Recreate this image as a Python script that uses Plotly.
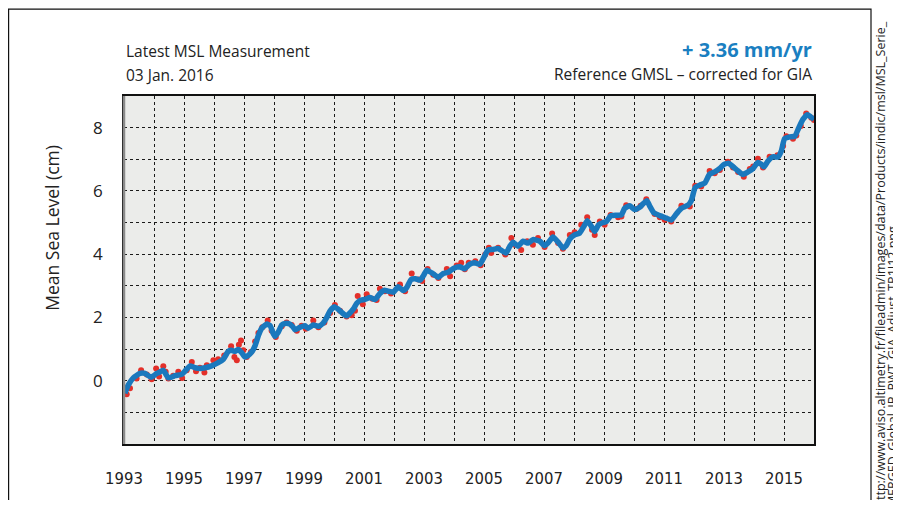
import plotly.graph_objects as go

# ---------------- data ----------------
blue_time = [1993.03, 1993.14, 1993.31, 1993.53, 1993.70, 1993.90, 1994.09, 1994.20, 1994.31, 1994.48,
             1994.70, 1994.92, 1995.03, 1995.20, 1995.37, 1995.53, 1995.70, 1995.92, 1996.14, 1996.31,
             1996.48, 1996.59, 1996.70, 1996.81, 1996.92, 1997.03, 1997.14, 1997.26, 1997.37, 1997.48,
             1997.59, 1997.76, 1997.87, 1997.98, 1998.03, 1998.14, 1998.26, 1998.37, 1998.53, 1998.64,
             1998.70, 1998.87, 1999.03, 1999.14, 1999.31, 1999.48, 1999.64, 1999.76, 1999.87, 2000.01,
             2000.14, 2000.28, 2000.42, 2000.53, 2000.64, 2000.76, 2000.87, 2001.03, 2001.20, 2001.37,
             2001.53, 2001.68, 2001.81, 2001.98, 2002.14, 2002.31, 2002.42, 2002.57, 2002.72, 2002.87,
             2002.98, 2003.09, 2003.26, 2003.48, 2003.64, 2003.81, 2003.98, 2004.19, 2004.36, 2004.52,
             2004.69, 2004.86, 2005.02, 2005.13, 2005.30, 2005.47, 2005.63, 2005.74, 2005.86, 2005.97,
             2006.13, 2006.30, 2006.47, 2006.63, 2006.86, 2007.02, 2007.13, 2007.30, 2007.47, 2007.63,
             2007.74, 2007.86, 2008.02, 2008.19, 2008.33, 2008.44, 2008.58, 2008.69, 2008.82, 2008.97,
             2009.08, 2009.22, 2009.41, 2009.58, 2009.69, 2009.86, 2010.02, 2010.19, 2010.30, 2010.43,
             2010.52, 2010.67, 2010.86, 2011.08, 2011.24, 2011.41, 2011.58, 2011.80, 2011.91, 2012.04,
             2012.19, 2012.36, 2012.52, 2012.69, 2012.86, 2013.00, 2013.16, 2013.30, 2013.47, 2013.63,
             2013.80, 2013.97, 2014.13, 2014.24, 2014.33, 2014.47, 2014.63, 2014.80, 2014.91, 2015.02,
             2015.19, 2015.36, 2015.49, 2015.63, 2015.78, 2015.89, 2016.00]
blue_msl = [-0.40, -0.14, 0.09, 0.23, 0.23, 0.11, 0.23, 0.28, 0.33, 0.09,
            0.16, 0.20, 0.30, 0.47, 0.41, 0.39, 0.41, 0.47, 0.57, 0.68,
            0.93, 0.96, 0.93, 0.99, 0.89, 0.75, 0.80, 0.91, 1.11, 1.43,
            1.66, 1.79, 1.74, 1.48, 1.40, 1.53, 1.76, 1.81, 1.79, 1.69,
            1.61, 1.69, 1.74, 1.66, 1.76, 1.72, 1.82, 2.00, 2.21, 2.34,
            2.26, 2.14, 2.05, 2.14, 2.26, 2.45, 2.54, 2.57, 2.63, 2.57,
            2.76, 2.86, 2.83, 2.80, 2.97, 2.85, 2.94, 3.20, 3.22, 3.18,
            3.32, 3.49, 3.41, 3.27, 3.39, 3.43, 3.55, 3.60, 3.54, 3.68,
            3.73, 3.68, 3.94, 4.13, 4.15, 4.18, 4.09, 4.04, 4.25, 4.38,
            4.25, 4.41, 4.35, 4.46, 4.41, 4.27, 4.35, 4.54, 4.38, 4.20,
            4.27, 4.48, 4.61, 4.67, 4.88, 5.06, 4.88, 4.72, 4.93, 5.00,
            5.03, 5.21, 5.23, 5.24, 5.45, 5.53, 5.41, 5.48, 5.59, 5.69,
            5.53, 5.30, 5.22, 5.14, 5.08, 5.27, 5.45, 5.55, 5.69, 6.11,
            6.18, 6.25, 6.53, 6.60, 6.71, 6.84, 6.87, 6.77, 6.63, 6.52,
            6.60, 6.71, 6.90, 6.84, 6.76, 6.95, 7.08, 7.07, 7.26, 7.65,
            7.71, 7.73, 7.99, 8.26, 8.41, 8.34, 8.26]

red_time = [1993.09, 1993.20, 1993.42, 1993.57, 1993.76, 1993.92, 1994.07, 1994.17, 1994.31, 1994.39,
            1994.48, 1994.64, 1994.81, 1994.94, 1995.09, 1995.26, 1995.40, 1995.53, 1995.68, 1995.76,
            1995.98, 1996.14, 1996.34, 1996.57, 1996.68, 1996.76, 1996.83, 1996.90, 1996.98, 1997.09,
            1997.23, 1997.37, 1997.48, 1997.61, 1997.79, 1997.92, 1998.06, 1998.26, 1998.42, 1998.59,
            1998.76, 1998.92, 1999.06, 1999.31, 1999.48, 1999.68, 1999.87, 2000.03, 2000.20, 2000.42,
            2000.59, 2000.70, 2000.79, 2000.96, 2001.09, 2001.28, 2001.42, 2001.53, 2001.70, 2001.90,
            2002.20, 2002.37, 2002.59, 2002.81, 2002.94, 2003.12, 2003.31, 2003.48, 2003.76, 2003.87,
            2004.09, 2004.24, 2004.36, 2004.49, 2004.71, 2004.89, 2005.04, 2005.16, 2005.24, 2005.47,
            2005.71, 2005.91, 2006.02, 2006.24, 2006.44, 2006.63, 2006.80, 2007.02, 2007.27, 2007.47,
            2007.63, 2007.86, 2008.02, 2008.24, 2008.44, 2008.60, 2008.69, 2008.86, 2009.02, 2009.22,
            2009.47, 2009.58, 2009.74, 2010.08, 2010.22, 2010.41, 2010.69, 2010.86, 2011.02, 2011.24,
            2011.58, 2011.86, 2012.04, 2012.24, 2012.52, 2012.69, 2012.86, 2013.13, 2013.30, 2013.47,
            2013.66, 2013.86, 2013.97, 2014.13, 2014.30, 2014.52, 2014.78, 2014.97, 2015.08, 2015.30,
            2015.41, 2015.56, 2015.74, 2015.91, 2016.00]
red_msl = [-0.43, -0.24, 0.07, 0.33, 0.20, 0.05, 0.39, 0.13, 0.46, 0.28,
           0.07, 0.16, 0.28, 0.09, 0.33, 0.59, 0.30, 0.41, 0.26, 0.49,
           0.65, 0.68, 0.80, 1.09, 0.75, 0.65, 1.14, 1.27, 0.96, 0.75,
           0.91, 1.24, 1.51, 1.69, 1.90, 1.58, 1.38, 1.72, 1.84, 1.76,
           1.58, 1.74, 1.64, 1.90, 1.69, 1.84, 2.14, 2.39, 2.21, 2.03,
           2.07, 2.21, 2.68, 2.42, 2.73, 2.59, 2.55, 2.91, 2.83, 2.76,
           3.04, 2.83, 3.39, 3.20, 3.15, 3.53, 3.35, 3.25, 3.53, 3.30,
           3.64, 3.73, 3.52, 3.73, 3.78, 3.65, 3.99, 4.20, 4.04, 4.20,
           3.99, 4.51, 4.30, 4.13, 4.41, 4.30, 4.51, 4.23, 4.65, 4.35,
           4.17, 4.61, 4.69, 4.93, 5.17, 4.77, 4.61, 5.03, 4.93, 5.24,
           5.17, 5.19, 5.55, 5.43, 5.53, 5.74, 5.27, 5.17, 5.09, 5.03,
           5.53, 5.51, 6.16, 6.14, 6.63, 6.56, 6.66, 6.92, 6.74, 6.60,
           6.45, 6.69, 6.77, 7.02, 6.74, 7.08, 7.13, 7.42, 7.73, 7.65,
           7.75, 8.05, 8.45, 8.31, 8.24]

year_ticks = [1993, 1995, 1997, 1999, 2001, 2003, 2005, 2007, 2009, 2011, 2013, 2015]
year_labels = [str(y) for y in year_ticks]
msl_ticks = [0, 2, 4, 6, 8]
msl_labels = ["0", "2", "4", "6", "8"]

# ---------------- figure ----------------
BLUE = "#1a78bd"
RED = "#e3302a"
TXT = "#222222"
FONT = "Open Sans, Noto Sans, sans-serif"
NARROW = "Liberation Sans Narrow, DejaVu Sans Condensed, sans-serif"

fig = go.Figure()
fig.add_trace(go.Scatter(x=red_time, y=red_msl, mode="markers",
                         marker=dict(color=RED, size=6, line=dict(width=0)),
                         showlegend=False, hoverinfo="x+y"))
fig.add_trace(go.Scatter(x=blue_time, y=blue_msl, mode="lines",
                         line=dict(color=BLUE, width=5.5, shape="spline", smoothing=0.5),
                         showlegend=False, hoverinfo="x+y"))

# the page body adds an 8px offset; the figure is sized so the page does not scroll
OFF = 8
W, H = 901 - OFF, 508 - 2 * OFF
# plot area wanted in page pixels: x 124..814, y 96..446
L, R, T, B = 124 - OFF, W - (814 - OFF), 96 - OFF, H - (446 - OFF)
pw, ph = W - L - R, H - T - B


def px(x):
    return (x - OFF - L) / pw


def py(y):
    return (H - B - (y - OFF)) / ph


grid = dict(showgrid=True, gridcolor="#1a1a1a", gridwidth=1, griddash="dot")

fig.update_xaxes(range=[1993, 2016], tickmode="array", tickvals=year_ticks, ticktext=year_labels,
                 tickfont=dict(family=NARROW, size=16.5, color=TXT), ticks="",
                 ticklabelstandoff=18,
                 minor=dict(dtick=1, tick0=1993, showgrid=True, gridcolor="#1a1a1a", gridwidth=1, griddash="dot"),
                 showline=True, linecolor="#111111", linewidth=1.5, mirror=True, zeroline=False, **grid)
fig.update_yaxes(range=[-2, 9], tickmode="array", tickvals=msl_ticks, ticktext=msl_labels,
                 tickfont=dict(family=FONT, size=17, color=TXT), ticks="",
                 ticklabelstandoff=16,
                 minor=dict(dtick=1, tick0=0, showgrid=True, gridcolor="#1a1a1a", gridwidth=1, griddash="dot"),
                 showline=True, linecolor="#111111", linewidth=1.5, mirror=True, zeroline=False, **grid)

fig.update_layout(
    width=W, height=H, autosize=False,
    margin=dict(l=L, r=R, t=T, b=B, pad=0),
    paper_bgcolor="white", plot_bgcolor="#ebecea",
    font=dict(family=FONT, color=TXT),
    shapes=[
        # outer frame
        dict(type="rect", xref="paper", yref="paper", x0=px(8.6), x1=px(871), y0=py(540), y1=py(8.6),
             line=dict(color="#111111", width=1.2), layer="below"),
        # grey left axis line
        dict(type="line", xref="paper", yref="paper", x0=0, x1=0, y0=0, y1=1,
             line=dict(color="#8a8a8a", width=2.5), layer="above"),
    ],
    annotations=[
        dict(text="Latest MSL Measurement", xref="paper", yref="paper", x=0, y=py(51),
             xanchor="left", yanchor="middle", showarrow=False, font=dict(size=15.5, family=FONT, color=TXT)),
        dict(text="03 Jan. 2016", xref="paper", yref="paper", x=0, y=py(75),
             xanchor="left", yanchor="middle", showarrow=False, font=dict(size=15.5, family=FONT, color=TXT)),
        dict(text="<b>+ 3.36 mm/yr</b>", xref="paper", yref="paper", x=1, y=py(49),
             xanchor="right", yanchor="middle", showarrow=False, font=dict(size=20, family=FONT, color="#1a7fc1")),
        dict(text="Reference GMSL \u2013 corrected for GIA", xref="paper", yref="paper", x=1, y=py(74),
             xanchor="right", yanchor="middle", showarrow=False, font=dict(size=15.5, family=FONT, color=TXT)),
        dict(text="Mean Sea Level (cm)", xref="paper", yref="paper", x=px(52), y=py(143),
             xanchor="center", yanchor="top", textangle=-90, showarrow=False,
             font=dict(size=17.5, family=FONT, color=TXT)),
        dict(text="http://www.aviso.altimetry.fr/fileadmin/images/data/Products/indic/msl/MSL_Serie_",
             xref="paper", yref="paper", x=px(881), y=py(512), xanchor="center", yanchor="bottom",
             textangle=-90, showarrow=False, font=dict(size=12.5, family=FONT, color=TXT)),
        dict(text="MERGED_Global_IB_RWT_GIA_Adjust_TP1J12.png",
             xref="paper", yref="paper", x=px(892), y=py(512), xanchor="center", yanchor="bottom",
             textangle=-90, showarrow=False, font=dict(size=12.5, family=FONT, color=TXT)),
    ],
)

fig.write_html("out.html")
